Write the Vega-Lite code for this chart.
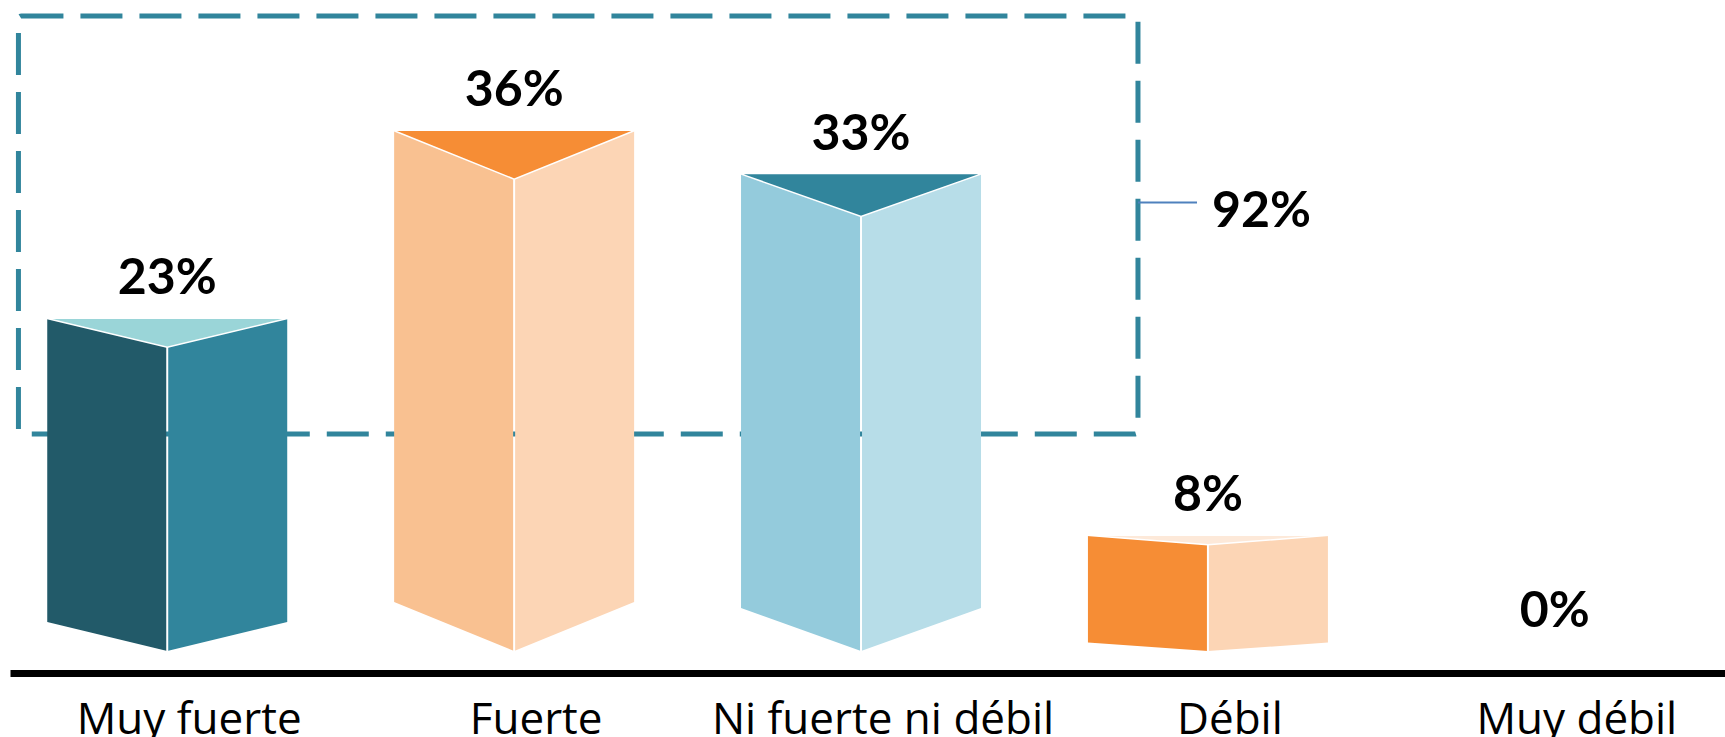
{
  "$schema": "https://vega.github.io/schema/vega-lite/v6.json",
  "autosize": {"type": "none"},
  "width": 1715,
  "height": 651,
  "padding": {"left": 10, "top": 0, "right": 0, "bottom": 86},
  "background": "white",
  "config": {"view": {"stroke": null}, "axisY": {"disable": true}},
  "data": {
    "values": [
      {"categoria": "Muy fuerte", "porcentaje": 0.23},
      {"categoria": "Fuerte", "porcentaje": 0.36},
      {"categoria": "Ni fuerte ni débil", "porcentaje": 0.33},
      {"categoria": "Débil", "porcentaje": 0.08},
      {"categoria": "Muy débil", "porcentaje": 0.0}
    ]
  },
  "layer": [
    {
      "data": {"values": [{"grupo": "Muy fuerte + Fuerte + Ni fuerte ni débil", "total": 0.92}]},
      "mark": {"type": "rect", "filled": false, "stroke": "#31859c", "strokeWidth": 5, "strokeDash": [42, 17], "cornerRadius": 3},
      "encoding": {
        "x": {"datum": "Muy fuerte", "type": "nominal", "bandPosition": -0.12},
        "x2": {"datum": "Ni fuerte ni débil", "bandPosition": 1.654},
        "y": {"datum": 0.439, "type": "quantitative", "axis": null},
        "y2": {"datum": 0.15}
      }
    },
    {
      "transform": [{"filter": "datum.porcentaje > 0"}],
      "mark": {"type": "bar", "strokeWidth": 0},
      "encoding": {
        "x": {
          "field": "categoria", "type": "nominal", "sort": null,
          "scale": {
            "type": "band",
            "domain": ["Muy fuerte", "Fuerte", "Ni fuerte ni débil", "Débil", "Muy débil"],
            "paddingInner": 0.3082, "paddingOuter": 0.126, "align": 0.426
          },
          "axis": {
            "title": null, "labelFont": "Open Sans", "labelFontSize": 44, "labelColor": "black",
            "labelPadding": 25, "labelOffset": 22, "labelAlign": "center", "labelBaseline": "top",
            "ticks": false, "domainColor": "black",
            "domainWidth": 7, "offset": 22, "labelAngle": 0, "labelLimit": 0,
            "labelOverlap": false, "grid": false
          }
        },
        "xOffset": {"datum": "izquierda", "type": "nominal", "scale": {"domain": ["izquierda", "derecha"], "paddingInner": 0.0165, "paddingOuter": 0}},
        "y": {"field": "porcentaje", "type": "quantitative", "scale": {"domain": [0, 0.45]}, "axis": null},
        "color": {
          "field": "categoria", "type": "nominal",
          "scale": {"domain": ["Muy fuerte", "Fuerte", "Ni fuerte ni débil", "Débil"], "range": ["#225a69", "#f9c191", "#94cbdc", "#f68d35"]},
          "legend": null
        }
      }
    },
    {
      "transform": [{"filter": "datum.porcentaje > 0"}],
      "mark": {"type": "bar", "strokeWidth": 0},
      "encoding": {
        "x": {"field": "categoria", "type": "nominal", "sort": null},
        "xOffset": {"datum": "derecha", "type": "nominal"},
        "y": {"field": "porcentaje", "type": "quantitative", "axis": null},
        "color": {
          "field": "categoria", "type": "nominal",
          "scale": {"domain": ["Muy fuerte", "Fuerte", "Ni fuerte ni débil", "Débil"], "range": ["#31859c", "#fcd5b5", "#b7dde8", "#fcd5b5"]},
          "legend": null
        }
      }
    },
    {
      "transform": [{"filter": "datum.porcentaje > 0"}],
      "mark": {"type": "point", "filled": true, "opacity": 1, "size": 57600, "stroke": "white", "strokeWidth": 1.5},
      "encoding": {
        "x": {"field": "categoria", "type": "nominal", "sort": null},
        "y": {"field": "porcentaje", "type": "quantitative", "axis": null},
        "shape": {
          "field": "categoria", "type": "nominal",
          "scale": {
            "domain": ["Muy fuerte", "Fuerte", "Ni fuerte ni débil", "Débil"],
            "range": ["M-1.01,0L1.01,0L0,0.242Z", "M-1.01,0L1.01,0L0,0.408Z", "M-1.01,0L1.01,0L0,0.358Z", "M-1.01,0L1.01,0L0,0.08Z"]
          },
          "legend": null
        },
        "fill": {
          "field": "categoria", "type": "nominal",
          "scale": {"domain": ["Muy fuerte", "Fuerte", "Ni fuerte ni débil", "Débil"], "range": ["#9ad5d8", "#f68d35", "#31859c", "#fde9d9"]},
          "legend": null
        }
      }
    },
    {
      "transform": [{"filter": "datum.porcentaje > 0"}],
      "mark": {"type": "point", "filled": true, "opacity": 1, "size": 57600, "color": "white", "strokeWidth": 0},
      "encoding": {
        "x": {"field": "categoria", "type": "nominal", "sort": null},
        "y": {"datum": 0, "type": "quantitative", "axis": null},
        "shape": {
          "field": "categoria", "type": "nominal",
          "scale": {
            "domain": ["Muy fuerte", "Fuerte", "Ni fuerte ni débil", "Débil"],
            "range": [
              "M-1.06,-0.242L-1,-0.242L0,0L1,-0.242L1.06,-0.242L1.06,0.06L-1.06,0.06Z",
              "M-1.06,-0.408L-1,-0.408L0,0L1,-0.408L1.06,-0.408L1.06,0.06L-1.06,0.06Z",
              "M-1.06,-0.358L-1,-0.358L0,0L1,-0.358L1.06,-0.358L1.06,0.06L-1.06,0.06Z",
              "M-1.06,-0.07L-1,-0.07L0,0L1,-0.07L1.06,-0.07L1.06,0.06L-1.06,0.06Z"
            ]
          },
          "legend": null
        }
      }
    },
    {
      "mark": {"type": "text", "font": "Lato", "fontWeight": "bold", "fontSize": 50, "color": "black", "baseline": "alphabetic", "dy": -24},
      "encoding": {
        "x": {"field": "categoria", "type": "nominal", "sort": null},
        "y": {"field": "porcentaje", "type": "quantitative", "axis": null},
        "text": {"field": "porcentaje", "type": "quantitative", "format": ".0%"}
      }
    },
    {
      "data": {"values": [{"grupo": "Muy fuerte + Fuerte + Ni fuerte ni débil", "total": 0.92}]},
      "mark": {"type": "rule", "color": "#4f81bd", "strokeWidth": 2},
      "encoding": {
        "x": {"datum": "Ni fuerte ni débil", "type": "nominal", "bandPosition": 1.654},
        "x2": {"datum": "Ni fuerte ni débil", "bandPosition": 1.9},
        "y": {"datum": 0.31, "type": "quantitative", "axis": null}
      }
    },
    {
      "data": {"values": [{"grupo": "Muy fuerte + Fuerte + Ni fuerte ni débil", "total": 0.92}]},
      "mark": {"type": "text", "font": "Lato", "fontWeight": "bold", "fontSize": 50, "color": "black", "align": "left", "baseline": "alphabetic"},
      "encoding": {
        "x": {"datum": "Ni fuerte ni débil", "type": "nominal", "bandPosition": 1.9625},
        "y": {"datum": 0.293, "type": "quantitative", "axis": null},
        "text": {"field": "total", "type": "quantitative", "format": ".0%"}
      }
    }
  ],
  "resolve": {"scale": {"color": "independent", "fill": "independent", "shape": "independent"}}
}
